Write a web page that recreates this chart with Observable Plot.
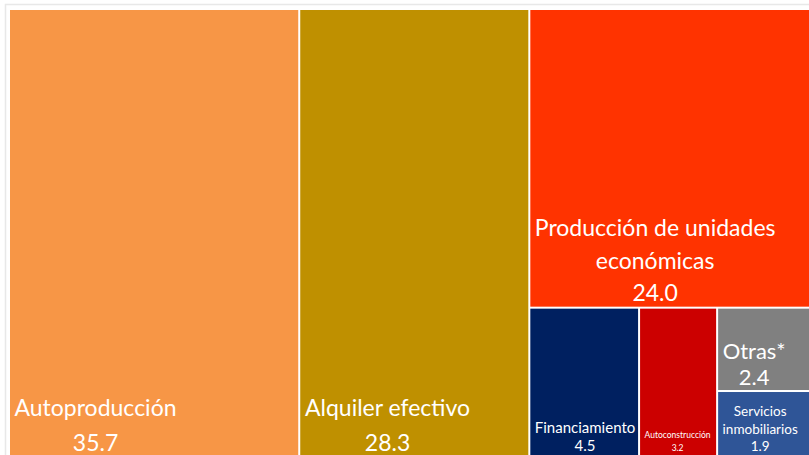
<!DOCTYPE html>
<html><head><meta charset="utf-8">
<script src="https://cdn.jsdelivr.net/npm/d3@7"></script>
<script src="https://cdn.jsdelivr.net/npm/@observablehq/plot@0.6"></script>
<style>html,body{margin:0;padding:0;background:#fff;overflow:hidden}</style>
</head><body><div id="chart"></div>
<script>
// ---- data ----
const categories = ["Autoproducción","Alquiler efectivo","Producción de unidades económicas","Financiamiento","Autoconstrucción","Otras*","Servicios inmobiliarios"];
const values = [35.7, 28.3, 24.0, 4.5, 3.2, 2.4, 1.9];
const valueLabels = ["35.7","28.3","24.0","4.5","3.2","2.4","1.9"];
const labelLines = [["Autoproducción"],["Alquiler efectivo"],["Producción de unidades","económicas"],["Financiamiento"],["Autoconstrucción"],["Otras*"],["Servicios","inmobiliarios"]];

// ---- styles ----
const colors = ["#F79646","#BF9000","#FF3300","#002060","#CC0000","#808080","#2F5597"];
const fontSizes = [23, 23, 23, 15, 8.5, 22, 13.5];
const lineHeights = [1.5, 1.5, 1.42, 1.2, 1.5, 1.15, 1.26];
const FONT = "Lato";

const W = 811, H = 446, PAD = 4;
const root = d3.hierarchy({children: values.map((v, i) => ({i, value: v}))})
  .sum(d => d.value ?? 0)
  .sort((a, b) => b.value - a.value);
d3.treemap().tile(d3.treemapSquarify.ratio(1)).size([W, H]).paddingInner(2).round(false)(root);
const leaves = root.leaves();

const ctx = document.createElement("canvas").getContext("2d");
function blockWidth(lines, fs) {
  ctx.font = `${fs}px ${FONT}`;
  return d3.max(lines, s => ctx.measureText(s).width);
}

const textMarks = leaves.map(leaf => {
  const i = leaf.data.i;
  const lines = [...labelLines[i], valueLabels[i]];
  const bw = blockWidth(lines, fontSizes[i]);
  return Plot.text([leaf], {
    x: d => d.x0 + PAD + bw / 2,
    y: d => d.y1,
    text: () => lines.join("\n"),
    textAnchor: "middle",
    lineAnchor: "bottom",
    fontSize: fontSizes[i],
    lineHeight: lineHeights[i],
    fontFamily: FONT,
    fill: "white",
    dy: -6
  });
});

const chart = Plot.plot({
  width: 809,
  height: 455,
  marginLeft: 5, marginTop: 4, marginRight: 0, marginBottom: 0,
  x: {domain: [0, W], range: [10, 10 + W], axis: null},
  y: {domain: [0, H], range: [10, 10 + H], axis: null},
  style: {fontFamily: FONT, background: "white"},
  marks: [
    Plot.frame({stroke: "#e8e8e8", strokeWidth: 1.5, insetRight: -40, insetBottom: -40}),
    Plot.rect(leaves, {
      x1: d => d.x0, x2: d => d.x1, y1: d => d.y0, y2: d => d.y1,
      fill: d => colors[d.data.i]
    }),
    ...textMarks
  ]
});
document.getElementById("chart").appendChild(chart);
</script>
</body></html>
